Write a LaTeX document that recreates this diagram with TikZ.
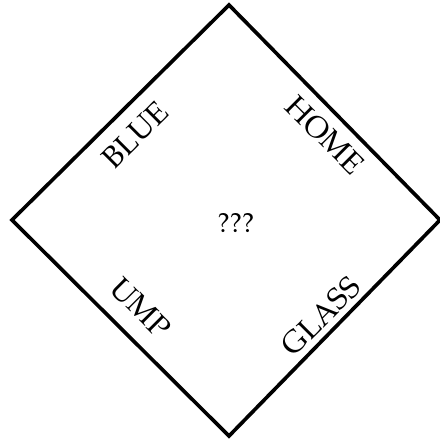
\documentclass[tikz,border=0pt]{standalone}
\usepackage[T1]{fontenc}
\usepackage{mathpazo}
\usepackage{tikz}
\usetikzlibrary{positioning}

\begin{document}
\begin{tikzpicture}[
    edge/.style={draw=black, line width=2.6pt, line join=miter},
    word/.style={inner sep=0pt, font=\fontsize{21.5}{25}\selectfont}
]
\useasboundingbox (0,0) rectangle (11,11);
\coordinate (top) at (5.725,10.875);
\coordinate (right) at (11.0,5.5);
\coordinate (bottom) at (5.725,0.1);
\coordinate (left) at (0.3,5.5);
\draw[edge] (top) -- (right) -- (bottom) -- (left) -- cycle;
\node[word, rotate=45] (blue) at (3.375,7.625) {BLUE};
\node[word, rotate=-45] (home) at (8.125,7.625) {HOME};
\node[word, rotate=-45] (ump) at (3.525,3.3) {UMP};
\node[word, rotate=45] (glass) at (8.025,3.1) {GLASS};
\node[word, font=\fontsize{19.5}{23}\selectfont] (mystery) at (5.9,5.425) {???};
\end{tikzpicture}
\end{document}
